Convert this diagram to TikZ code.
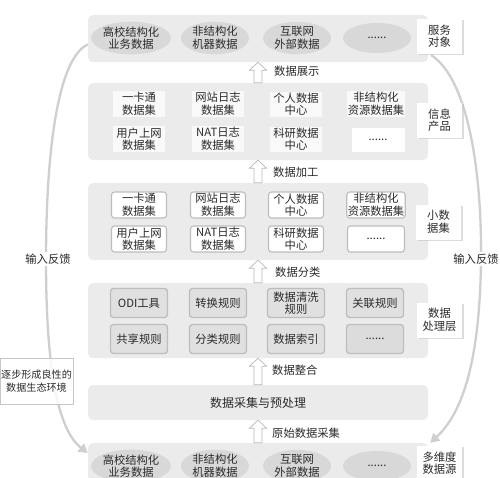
\documentclass[tikz,border=0pt]{standalone}
\usepackage{fontspec}
\setmainfont{Noto Sans CJK SC}
\usetikzlibrary{shapes.geometric,shadows,calc,arrows.meta}
\definecolor{panelgray}{HTML}{EBEBEB}
\definecolor{ovalgray}{HTML}{D8D8D8}
\definecolor{txt}{HTML}{2A2A2A}
\definecolor{edgegray}{HTML}{BDBDBD}
\newcommand\fs{\fontsize{11.3}{12.6}\selectfont}
\newcommand\upblk[2]{\draw[blk] ($(#1)+(-4,0)$) -- ($(#2)+(-4,8)$) -- ($(#2)+(-8.5,8)$) -- (#2) -- ($(#2)+(8.5,8)$) -- ($(#2)+(4,8)$) -- ($(#1)+(4,0)$) -- cycle;}
\tikzset{
  panel/.style={fill=panelgray, rounded corners=5pt, minimum width=340pt, inner sep=0pt},
  oval/.style={ellipse, fill=ovalgray, minimum width=68pt, minimum height=30pt, inner sep=0pt, align=center, font=\fs, text=txt},
  infobox/.style={fill=white!70!panelgray, minimum width=52pt, minimum height=24pt, inner sep=1pt, align=center, font=\fs, text=txt},
  smallbox/.style={fill=white, draw=edgegray, line width=1.1pt, rounded corners=3pt, minimum width=55pt, minimum height=26pt, inner sep=1pt, align=center, font=\fs, text=txt},
  procbox/.style={fill=panelgray!90!gray, draw=edgegray, line width=1.3pt, rounded corners=3pt, minimum width=57pt, minimum height=29pt, inner sep=1pt, align=center, font=\fs, text=txt},
  tag/.style={fill=white, minimum width=45pt, minimum height=35pt, inner sep=1pt, align=center, font=\fs, text=txt, drop shadow={shadow xshift=1.5pt, shadow yshift=-1.5pt, fill=gray!45, opacity=0.6}},
  lbl/.style={font=\fs, text=txt, inner sep=1pt},
  blk/.style={draw=gray!55, fill=white, line width=0.7pt, line join=miter},
  bigarrow/.style={draw=gray!38, line width=2.3pt, -{Triangle[length=9pt,width=10pt]}},
  fb/.style={fill=white, font=\fs, text=txt, inner sep=1.5pt},
  note/.style={fill=white, fill opacity=0.85, text opacity=1, draw=gray!45, line width=0.5pt, minimum width=73pt, minimum height=46pt, inner sep=0.5pt, align=center, font=\fontsize{10.1}{13}\selectfont, text=txt}
}
\begin{document}
\begin{tikzpicture}[x=1pt,y=-1pt]
\useasboundingbox (0,0) rectangle (500,477);
\clip (0,0) rectangle (500,477);
\fill[white] (0,0) rectangle (500,477);

% panels
\node[panel, minimum height=47pt] (L1) at (258,38.5) {};
\node[panel, minimum height=77pt] (L2) at (258,121.5) {};
\node[panel, minimum height=77pt] (L3) at (258,221.5) {};
\node[panel, minimum height=75pt] (L4) at (258,320.5) {};
\node[panel, minimum height=35pt, font=\fontsize{12}{13}\selectfont, text=txt] (L5) at (258,402.5) {数据采集与预处理};
\node[panel, minimum height=50pt] (L6) at (258,468) {};

% feedback arcs
\draw[bigarrow] ([yshift=-6pt]L1.west) .. controls (58,58) and (46,150) .. (46,260)
  .. controls (46,370) and (58,430) .. ([yshift=15pt]L6.west);
\coordinate (rs) at (431,55);
\draw[bigarrow] (rs) .. controls (470,80) and (482,180) .. (481,260)
  .. controls (480,350) and (466,410) .. ([xshift=2pt]L6.north east);

% service objects (top)
\node[oval] (a1) at (131,38) {高校结构化\\业务数据};
\node[oval] (a2) at (215,38) {非结构化\\机器数据};
\node[oval] (a3) at (297,38) {互联网\\外部数据};
\node[oval] (a4) at (377,38) {......};

% information products
\node[infobox] (b1) at (139,104) {一卡通\\数据集};
\node[infobox] (b2) at (218,104) {网站日志\\数据集};
\node[infobox] (b3) at (296,104) {个人数据\\中心};
\node[infobox] (b4) at (376,104) {非结构化\\资源数据集};
\node[infobox] (b5) at (139,139) {用户上网\\数据集};
\node[infobox] (b6) at (218,139) {NAT日志\\数据集};
\node[infobox] (b7) at (296,139) {科研数据\\中心};
\node[infobox, fill=white, minimum width=53pt] (b8) at (378,140) {......};

% small data sets
\node[smallbox] (c1) at (139,205) {一卡通\\数据集};
\node[smallbox] (c2) at (218,205) {网站日志\\数据集};
\node[smallbox] (c3) at (296,205) {个人数据\\中心};
\node[smallbox, minimum width=57pt] (c4) at (376,205) {非结构化\\资源数据集};
\node[smallbox] (c5) at (139,239) {用户上网\\数据集};
\node[smallbox] (c6) at (218,239) {NAT日志\\数据集};
\node[smallbox] (c7) at (296,239) {科研数据\\中心};
\node[smallbox, minimum width=57pt] (c8) at (376,239) {......};

% processing layer
\node[procbox] (d1) at (139,303) {ODI工具};
\node[procbox] (d2) at (218,303) {转换规则};
\node[procbox] (d3) at (296,303) {数据清洗\\规则};
\node[procbox] (d4) at (375,303) {关联规则};
\node[procbox] (d5) at (139,339) {共享规则};
\node[procbox] (d6) at (218,339) {分类规则};
\node[procbox] (d7) at (296,339) {数据索引};
\node[procbox, fill=ovalgray!80!panelgray] (d8) at (375,339) {......};

% data sources (bottom)
\node[oval] (e1) at (131,466) {高校结构化\\业务数据};
\node[oval] (e2) at (215,466) {非结构化\\机器数据};
\node[oval] (e3) at (297,466) {互联网\\外部数据};
\node[oval] (e4) at (377,466) {......};

% block arrows between layers
\upblk{L2.north}{L1.south}
\upblk{L3.north}{L2.south}
\upblk{L4.north}{L3.south}
\upblk{L5.north}{L4.south}
\upblk{L6.north}{L5.south}
\node[lbl, anchor=west] (t1) at (273,71) {数据展示};
\node[lbl, anchor=west] (t2) at (272,172) {数据加工};
\node[lbl, anchor=west] (t3) at (274,272) {数据分类};
\node[lbl, anchor=west] (t4) at (271,370) {数据整合};
\node[lbl, anchor=west] (t5) at (271,433) {原始数据采集};

% side tags
\node[tag] (s1) at (439.5,36) {服务\\对象};
\node[tag] (s2) at (439.5,120) {信息\\产品};
\node[tag] (s3) at (438.5,222) {小数\\据集};
\node[tag] (s4) at (439.5,320) {数据\\处理层};
\node[tag] (s5) at (439.5,463) {多维度\\数据源};

% feedback labels
\node[fb] (f1) at (48,259) {输入反馈};
\node[fb] (f2) at (476,259) {输入反馈};
\node[note] (eco) at (36.5,381) {逐步形成良性的\\数据生态环境};
\end{tikzpicture}
\end{document}
